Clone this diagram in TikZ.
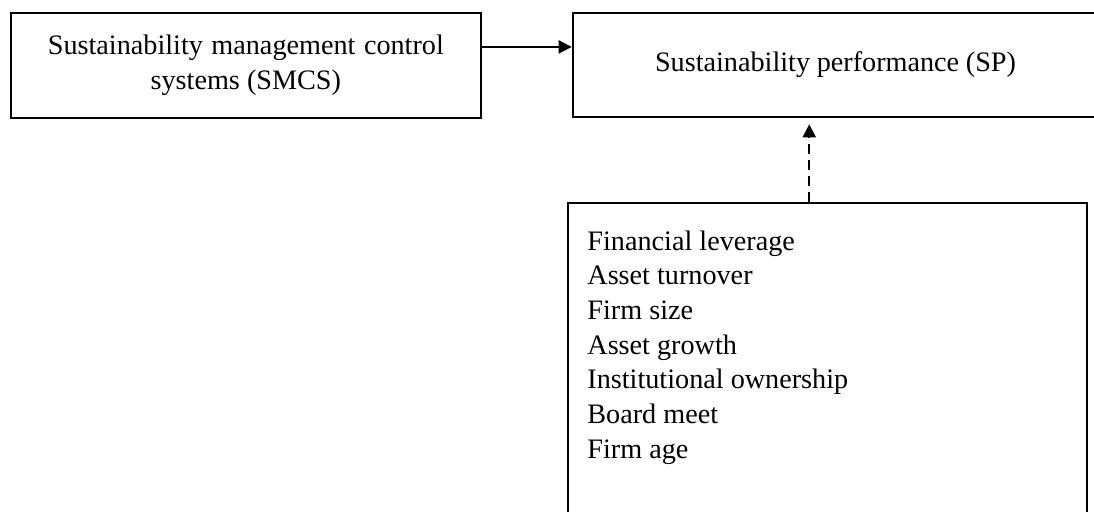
\documentclass[tikz,border=0pt]{standalone}
\usepackage{fontspec}
\setmainfont{Liberation Serif}
\usetikzlibrary{arrows.meta,calc}
\begin{document}
\begin{tikzpicture}[x=0.5pt,y=-0.5pt,
  box/.style={draw,line width=1pt,inner sep=0pt},
  txt/.style={font=\fontsize{14.1pt}{17.35pt}\selectfont},
  arr/.style={line width=1pt,-{Triangle[length=6.5pt,width=6.5pt]}}]
\clip (0,0) rectangle (1094,512);
\fill[white] (0,0) rectangle (1094,512);
\node[box,txt,align=center,minimum width=234.85pt,minimum height=52.65pt] (smcs) at (245.85,65.35)
  {\makebox[198pt][s]{Sustainability management control}\\systems (SMCS)};
\node[box,txt,minimum width=262.8pt,minimum height=52.3pt] (sp) at (835.5,65)
  {\makebox[180.5pt][s]{Sustainability performance (SP)}};
\node[box,anchor=north west,minimum width=259.5pt,minimum height=170pt] (ctrl) at (567.3,202) {};
\node[txt,anchor=north west,inner sep=0pt,align=left] (list) at (587,230.1)
  {Financial leverage\\Asset turnover\\Firm size\\Asset growth\\Institutional ownership\\Board meet\\Firm age};
\coordinate (a) at ($(smcs.north east)!0.3286!(smcs.south east)$);
\draw[arr] (a) -- (a -| sp.west);
\coordinate (d) at ($(ctrl.north west)!0.4644!(ctrl.north east)$);
\draw[arr,dash pattern=on 5pt off 3pt,shorten >=3pt] (d) -- (d |- sp.south);
\end{tikzpicture}
\end{document}
